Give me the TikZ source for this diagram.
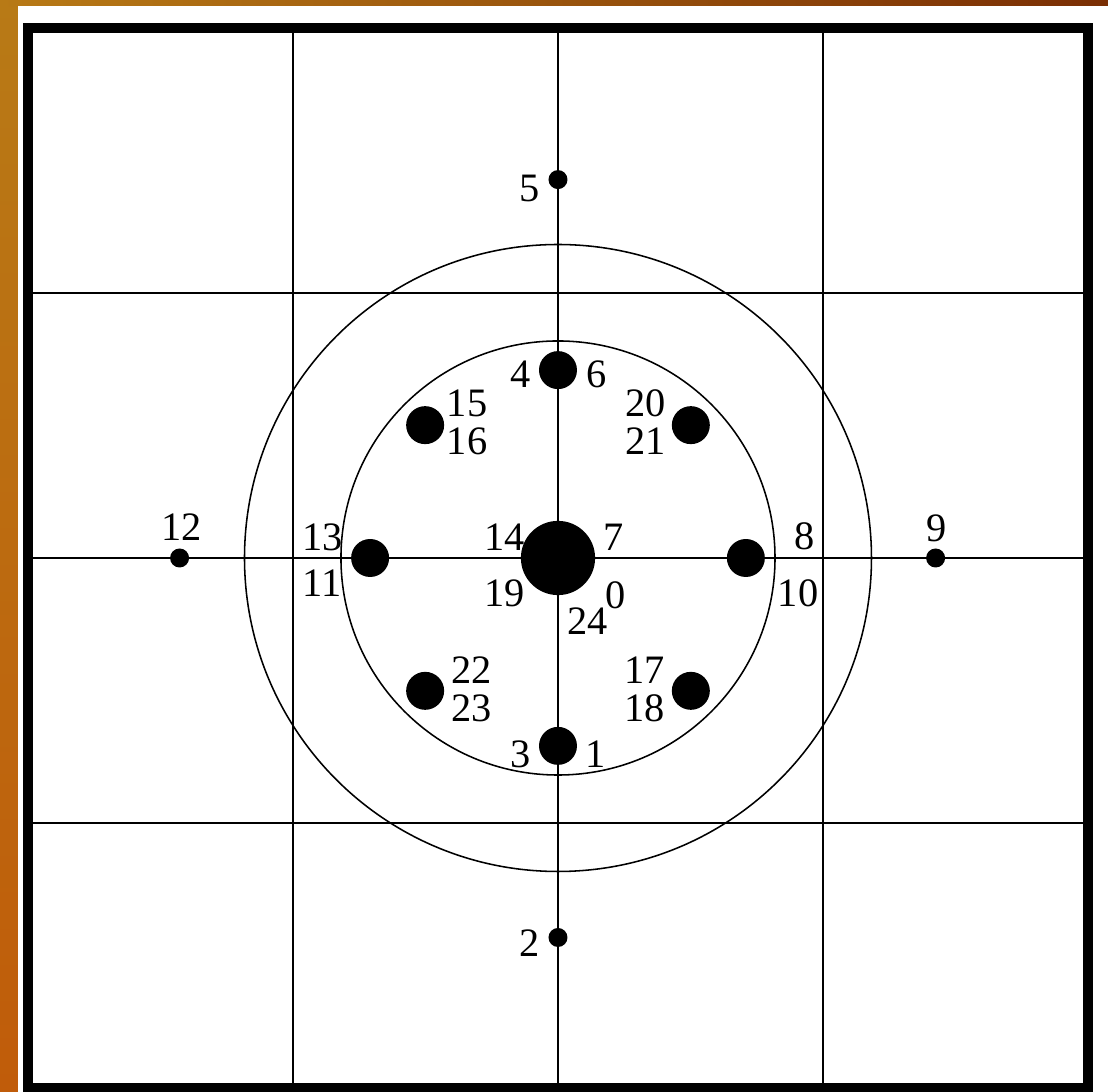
\documentclass[tikz,border=0pt]{standalone}
\usepackage{fontspec}
\setmainfont{Liberation Serif}
\usepackage{xcolor}
\definecolor{orgtop}{RGB}{184,122,22}
\definecolor{orgbot}{RGB}{192,92,10}
\definecolor{orgright}{RGB}{122,46,4}

\begin{document}
\begin{tikzpicture}[
        x=3cm,
        y=3cm,
        every node/.style={
            font=\fontsize{13}{15}\selectfont,
            inner sep=0pt
        },
        dot/.style={circle, fill=black, inner sep=0pt},
        bigdot/.style={dot, minimum size=0.84cm},
        middot/.style={dot, minimum size=0.43cm},
        smalldot/.style={dot, minimum size=0.215cm},
        gridline/.style={line width=0.5pt}
    ]

    % slide background
    \useasboundingbox (-2.1057,-2.0151) rectangle (2.0755,2.1057);
    \shade[top color=orgtop, bottom color=orgbot] (-2.1057,-2.0151) rectangle (-2.0377,2.1057);
    \shade[left color=orgtop, right color=orgright] (-2.1057,2.0830) rectangle (2.0755,2.1057);
    \fill[white] (-2.0377,-2.0151) rectangle (2.0755,2.0830);

    \foreach \g in {-1,0,1} {
        \draw[gridline] (\g,-2) -- (\g,2);
        \draw[gridline] (-2,\g) -- (2,\g);
    }
    \draw[gridline] (0,0) circle (0.819);
    \draw[gridline] (0,0) circle (1.183);
    \draw[line width=3.2pt] (-2,-2) rectangle (2,2);

    \node[bigdot] (C) at (0,0) {};

    \node[middot] (N) at (90:0.709) {};
    \node[middot] (NE) at (45:0.709) {};
    \node[middot] (E) at (0:0.709) {};
    \node[middot] (SE) at (-45:0.709) {};
    \node[middot] (S) at (-90:0.709) {};
    \node[middot] (SW) at (-135:0.709) {};
    \node[middot] (W) at (180:0.709) {};
    \node[middot] (NW) at (135:0.709) {};

    \node[smalldot] (N2) at (0,1.428) {};
    \node[smalldot] (S2) at (0,-1.432) {};
    \node[smalldot] (W2) at (-1.428,0) {};
    \node[smalldot] (E2) at (1.425,0) {};

    \node (l5) at (-0.106,1.396) {5};
    \node (l2) at (-0.106,-1.453) {2};
    \node (l12) at (-1.419,0.117) {12};
    \node (l9) at (1.430,0.113) {9};
    \node (l13) at (-0.887,0.079) {13};
    \node (l11) at (-0.891,-0.094) {11};
    \node (l8) at (0.932,0.083) {8};
    \node (l10) at (0.906,-0.132) {10};
    \node (l4) at (-0.140,0.694) {4};
    \node (l6) at (0.147,0.694) {6};
    \node (l15) at (-0.343,0.585) {15};
    \node (l16) at (-0.343,0.442) {16};
    \node (l20) at (0.332,0.585) {20};
    \node (l21) at (0.332,0.442) {21};
    \node (l14) at (-0.200,0.079) {14};
    \node (l7) at (0.208,0.079) {7};
    \node (l19) at (-0.200,-0.132) {19};
    \node (l0) at (0.219,-0.140) {0};
    \node (l24) at (0.113,-0.238) {24};
    \node (l22) at (-0.325,-0.423) {22};
    \node (l23) at (-0.325,-0.566) {23};
    \node (l17) at (0.328,-0.423) {17};
    \node (l18) at (0.328,-0.566) {18};
    \node (l3) at (-0.143,-0.740) {3};
    \node (l1) at (0.140,-0.740) {1};

\end{tikzpicture}
\end{document}
